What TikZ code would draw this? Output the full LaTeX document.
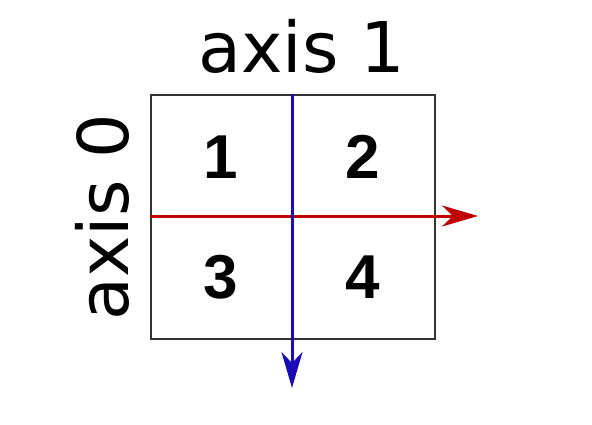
\documentclass[tikz,border=0pt]{standalone}
\usepackage{fontspec}
\setmainfont{DejaVu Sans}
\newfontfamily\numfont{Liberation Sans}
\usetikzlibrary{arrows.meta}
\definecolor{axblue}{HTML}{1A0DB5}
\definecolor{axred}{HTML}{C00000}
\definecolor{boxgray}{HTML}{333333}
\begin{document}
\begin{tikzpicture}[x=1pt,y=-1pt,
  numlbl/.style={font=\numfont\bfseries\fontsize{62}{70}\selectfont, inner sep=0pt},
  axlbl/.style={font=\fontsize{70}{80}\selectfont, inner sep=0pt},
  axarrow/.style={line width=3pt, -{Stealth[length=36pt,width=21pt,inset=11pt]}}]
\useasboundingbox (0,0) rectangle (592,425);
\node[draw=boxgray, line width=2pt, minimum width=284pt, minimum height=244pt, inner sep=0pt, anchor=north west] (grid) at (150,94) {};
\node[numlbl] (n1) at (221,157) {1};
\node[numlbl] (n2) at (363,157) {2};
\node[numlbl] (n3) at (221,277) {3};
\node[numlbl] (n4) at (363,277) {4};
\node[axlbl, anchor=base] (ax1) at (302,73) {axis 1};
\node[axlbl, anchor=base, rotate=90] (ax0) at (128,217) {axis 0};
\coordinate (bstart) at (292,94);
\coordinate (bend) at (292,388);
\coordinate (rstart) at (150,216);
\coordinate (rend) at (478,216);
\draw[axarrow, axred] (rstart) -- (rend);
\draw[axarrow, axblue] (bstart) -- (bend);
\end{tikzpicture}
\end{document}
